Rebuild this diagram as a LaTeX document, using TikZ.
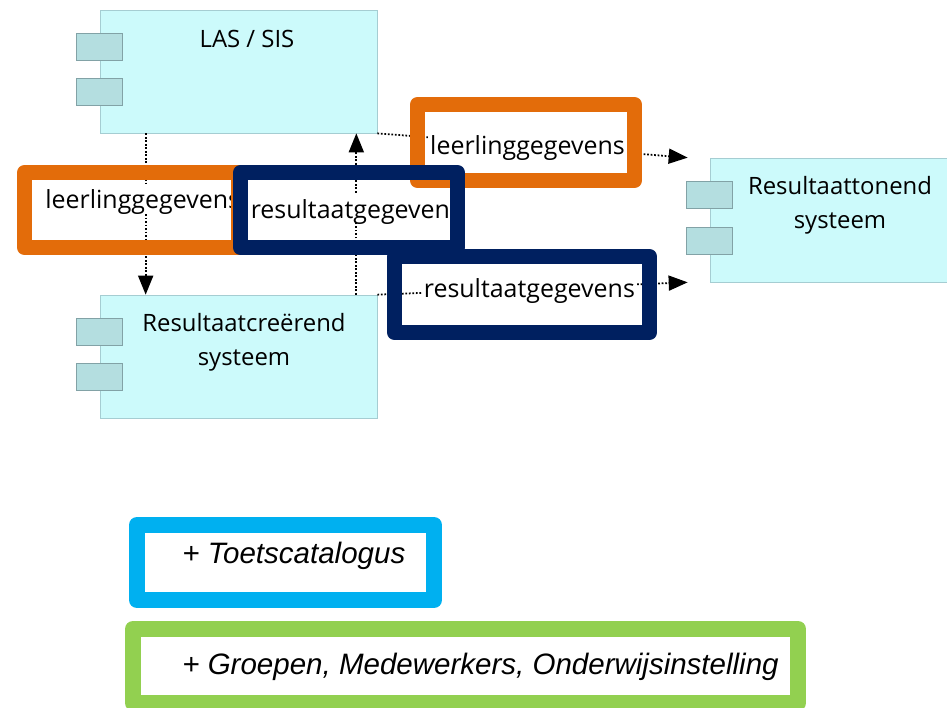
\documentclass[tikz,border=0pt]{standalone}
\usepackage{fontspec}
\setmainfont{Open Sans}
\newfontfamily\arialfont{Liberation Sans}
\usetikzlibrary{arrows.meta}
\definecolor{compfill}{RGB}{204,250,251}
\definecolor{compline}{RGB}{165,205,210}
\definecolor{portfill}{RGB}{180,222,224}
\definecolor{portline}{RGB}{130,162,166}
\definecolor{hlorange}{RGB}{227,108,10}
\definecolor{hlnavy}{RGB}{0,32,96}
\definecolor{hlcyan}{RGB}{0,176,240}
\definecolor{hlgreen}{RGB}{146,208,80}

\begin{document}
\begin{tikzpicture}[
  x = 0.02cm, y = -0.02cm,
  comp/.style = {draw = compline, fill = compfill, minimum width = 5.54cm, minimum height = 2.46cm, inner sep = 0pt},
  port/.style = {draw = portline, fill = portfill, minimum width = 0.92cm, minimum height = 0.54cm, inner sep = 0pt},
  comptitle/.style = {font = \fontsize{13.6}{18.8}\selectfont, align = center, inner sep = 0pt, anchor = base},
  conn/.style = {densely dotted, line width = 1pt, -{Triangle[length = 0.38cm, width = 0.3cm]}},
  lbl/.style = {fill = white, inner sep = 1pt, text height = 12pt, text depth = 1.5pt, font = \fontsize{14.2}{16}\selectfont},
  hlframe/.style = {line width = 0.3cm, line join = round},
  addtext/.style = {font = \arialfont\itshape\fontsize{16.8}{20}\selectfont, anchor = base west, inner sep = 0pt},
  ]
  \useasboundingbox (0,0) rectangle (947,707);
  \node[comp] (las) at (238.5,71.5) {};
  \node[comp] (creerend) at (238.5,356.5) {};
  \node[comp, minimum width = 5cm, minimum height = 2.48cm] (tonend) at (835,220) {};
  \foreach \c in {las, creerend, tonend} {
    \node[port] (\c-p1) at ([yshift = 0.5cm]\c.west) {};
    \node[port] (\c-p2) at ([yshift = -0.41cm]\c.west) {};
  }
  \node[comptitle] (las-title) at (247,47) {LAS / SIS};
  \node[comptitle] (creerend-title) at (244,365) {Resultaatcreërend\\systeem};
  \node[comptitle] (tonend-title) at (840,228) {Resultaattonend\\systeem};

  \draw[conn] ([xshift = 0.92cm]las.south west) -- node[lbl, pos = 0.41, xshift = -0.06cm] (lbl-ll1) {leerlinggegevens} ([xshift = 0.92cm]creerend.north west);
  \draw[conn] ([xshift = -0.42cm]creerend.north east) -- node[lbl, pos = 0.532] (lbl-rs1) {resultaatgegevens} ([xshift = -0.42cm]las.south east);
  \draw[conn] (las.south east) -- node[lbl, pos = 0.484] (lbl-ll2) {leerlinggegevens} ([xshift = -0.44cm]tonend.north west);
  \draw[conn] (creerend.north east) -- node[lbl, pos = 0.49] (lbl-rs2) {resultaatgegevens} ([xshift = -0.44cm]tonend.south west);

  \draw[hlframe, hlorange] (24.5,172.5) rectangle (238.5,247.5);
  \draw[hlframe, hlorange] (417.5,104.5) rectangle (634.5,180.5);
  \draw[hlframe, hlnavy] (240.5,172.5) rectangle (457.5,247.5);
  \draw[hlframe, hlnavy] (394.5,256.5) rectangle (649.5,332.5);

  \draw[hlframe, hlcyan, line width = 0.32cm] (137,525) rectangle (434,600);
  \node[addtext] (toets) at (182,563) {+ Toetscatalogus};
  \draw[hlframe, hlgreen, line width = 0.32cm] (133,629) rectangle (798,703);
  \node[addtext] (groepen) at (182,674) {+ Groepen, Medewerkers, Onderwijsinstelling};
\end{tikzpicture}
\end{document}
